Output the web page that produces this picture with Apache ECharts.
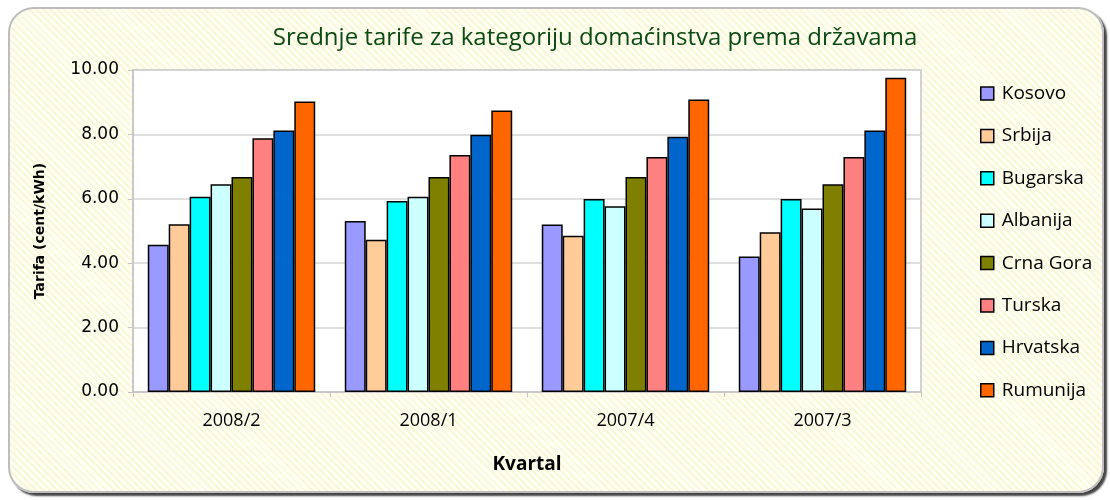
<!DOCTYPE html>
<html>
<head>
<meta charset="utf-8">
<script src="https://cdn.jsdelivr.net/npm/echarts@6/dist/echarts.min.js"></script>
<style>
    body { margin: 0; background: #fff; }
    #wrap { position: relative; width: 1110px; height: 500px; }
    #frame {
        position: absolute; left: 8px; top: 7px; width: 1092px; height: 482px;
        border: 2px solid #bdbdbd; border-radius: 26px;
        box-shadow: 3px 3px 2px #444;
        background: repeating-linear-gradient(45deg, #fffff4 0px, #fffff4 3px, #f8f8d8 3px, #f8f8d8 5px);
    }
    #chart { position: absolute; left: 0; top: 0; width: 1110px; height: 500px; }
</style>
</head>
<body>
<div id="wrap">
    <div id="frame"></div>
    <div id="chart"></div>
</div>
<script>
const categories = ['2008/2', '2008/1', '2007/4', '2007/3']
const countries = ['Kosovo', 'Srbija', 'Bugarska', 'Albanija', 'Crna Gora', 'Turska', 'Hrvatska', 'Rumunija']
const colors = ['#9999ff', '#ffcc99', '#00ffff', '#ccffff', '#808000', '#ff8080', '#0066cc', '#ff6600']

const kosovo = [4.57, 5.31, 5.20, 4.21]
const srbija = [5.21, 4.73, 4.85, 4.96]
const bugarska = [6.06, 5.93, 5.99, 5.99]
const albanija = [6.45, 6.06, 5.77, 5.70]
const crnaGora = [6.68, 6.68, 6.68, 6.45]
const turska = [7.88, 7.36, 7.30, 7.30]
const hrvatska = [8.12, 7.99, 7.93, 8.12]
const rumunija = [9.02, 8.74, 9.08, 9.76]
const values = [kosovo, srbija, bugarska, albanija, crnaGora, turska, hrvatska, rumunija]

const yTicks = [0, 2, 4, 6, 8, 10]

const chart = echarts.init(document.getElementById('chart'))
chart.setOption({
    backgroundColor: 'transparent',
    animation: false,
    title: {
        text: 'Srednje tarife za kategoriju domaćinstva prema državama',
        left: 590,
        top: 21,
        textAlign: 'center',
        textStyle: {
            fontFamily: 'Open Sans',
            fontSize: 24,
            fontWeight: 'normal',
            color: '#0b4a12'
        }
    },
    legend: {
        orient: 'vertical',
        left: 975,
        top: 79,
        itemWidth: 13,
        itemHeight: 13,
        itemGap: 23.4,
        icon: 'rect',
        data: countries,
        itemStyle: { borderColor: '#000', borderWidth: 1.5 },
        textStyle: {
            fontFamily: 'Open Sans',
            fontSize: 19,
            color: '#000',
            padding: [0, 0, 0, 3]
        }
    },
    grid: {
        left: 133,
        right: 189,
        top: 70,
        bottom: 108,
        show: true,
        backgroundColor: '#fff',
        borderColor: '#c4c4c4',
        borderWidth: 1.5
    },
    xAxis: {
        type: 'category',
        data: categories,
        name: 'Kvartal',
        nameLocation: 'middle',
        nameGap: 63,
        nameTextStyle: {
            fontFamily: 'Open Sans',
            fontWeight: 'bold',
            fontSize: 19,
            color: '#000'
        },
        axisLine: { lineStyle: { color: '#c4c4c4', width: 1.5 } },
        axisTick: { show: true, length: 5, lineStyle: { color: '#c4c4c4' } },
        axisLabel: {
            margin: 20,
            fontFamily: 'Open Sans',
            fontSize: 18,
            color: '#000'
        }
    },
    yAxis: {
        type: 'value',
        min: yTicks[0],
        max: yTicks[yTicks.length - 1],
        interval: 2,
        name: 'Tarifa (cent/kWh)',
        nameLocation: 'middle',
        nameGap: 86,
        nameTextStyle: {
            fontFamily: 'DejaVu Sans',
            fontWeight: 'bold',
            fontSize: 14,
            color: '#000'
        },
        axisLine: { show: true, lineStyle: { color: '#c4c4c4', width: 1.5 } },
        axisTick: { show: true, length: 5, lineStyle: { color: '#c4c4c4' } },
        splitLine: { lineStyle: { color: '#d4d4d4', width: 1.5 } },
        axisLabel: {
            margin: 14,
            fontFamily: 'DejaVu Sans',
            fontSize: 17,
            color: '#000',
            formatter: v => v.toFixed(2)
        }
    },
    series: countries.map((name, i) => ({
        type: 'bar',
        name: name,
        data: values[i],
        barGap: '0%',
        barCategoryGap: '15%',
        itemStyle: {
            color: colors[i],
            borderColor: '#000',
            borderWidth: 1.5
        }
    }))
})
</script>
</body>
</html>
